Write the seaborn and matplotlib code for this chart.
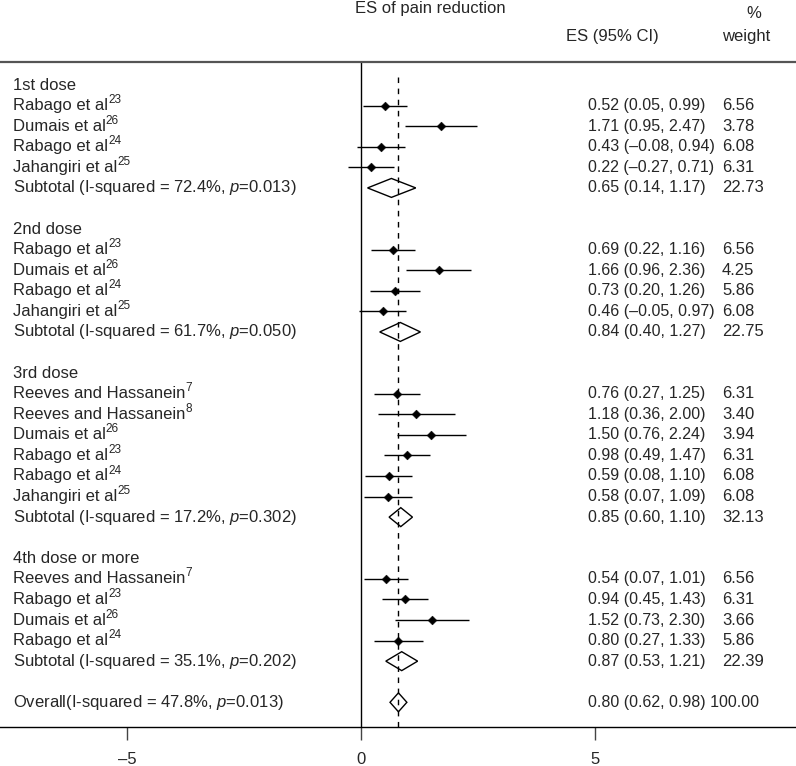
import matplotlib
matplotlib.use("Agg")
import matplotlib.pyplot as plt
import seaborn as sns
import pandas as pd
from matplotlib.patches import Polygon

# data
groups = ["1st dose", "2nd dose", "3rd dose", "4th dose or more"]
group_of = [0, 0, 0, 0, 1, 1, 1, 1, 2, 2, 2, 2, 2, 2, 3, 3, 3, 3]
names = ["Rabago et al", "Dumais et al", "Rabago et al", "Jahangiri et al",
         "Rabago et al", "Dumais et al", "Rabago et al", "Jahangiri et al",
         "Reeves and Hassanein", "Reeves and Hassanein", "Dumais et al",
         "Rabago et al", "Rabago et al", "Jahangiri et al",
         "Reeves and Hassanein", "Rabago et al", "Dumais et al", "Rabago et al"]
refs = ["23", "26", "24", "25", "23", "26", "24", "25",
        "7", "8", "26", "23", "24", "25", "7", "23", "26", "24"]
es = [0.52, 1.71, 0.43, 0.22, 0.69, 1.66, 0.73, 0.46,
      0.76, 1.18, 1.50, 0.98, 0.59, 0.58, 0.54, 0.94, 1.52, 0.80]
lo = [0.05, 0.95, -0.08, -0.27, 0.22, 0.96, 0.20, -0.05,
      0.27, 0.36, 0.76, 0.49, 0.08, 0.07, 0.07, 0.45, 0.73, 0.27]
hi = [0.99, 2.47, 0.94, 0.71, 1.16, 2.36, 1.26, 0.97,
      1.25, 2.00, 2.24, 1.47, 1.10, 1.09, 1.01, 1.43, 2.30, 1.33]
wt = [6.56, 3.78, 6.08, 6.31, 6.56, 4.25, 5.86, 6.08,
      6.31, 3.40, 3.94, 6.31, 6.08, 6.08, 6.56, 6.31, 3.66, 5.86]

sub_i2 = ["72.4", "61.7", "17.2", "35.1"]
sub_p = ["0.013", "0.050", "0.302", "0.202"]
sub_es = [0.65, 0.84, 0.85, 0.87]
sub_lo = [0.14, 0.40, 0.60, 0.53]
sub_hi = [1.17, 1.27, 1.10, 1.21]
sub_wt = [22.73, 22.75, 32.13, 22.39]

overall_i2 = "47.8"
overall_p = "0.013"
overall_es, overall_lo, overall_hi, overall_wt = 0.80, 0.62, 0.98, 100.00


def f2(v):
    return f"{v:.2f}".replace("-", "\u2013")


def ci_text(e, l, h):
    return f"{f2(e)} ({f2(l)}, {f2(h)})"


sns.set_style("white")
plt.rcParams['font.family'] = ['Liberation Sans', 'DejaVu Sans']
plt.rcParams['mathtext.fontset'] = 'custom'
plt.rcParams['mathtext.rm'] = 'Liberation Sans'
plt.rcParams['mathtext.it'] = 'Liberation Sans:italic'

FS = 12        # labels and headers
FS_NUM = 11.5  # ES (95% CI) column

# row layout
rows = []
header_rows, sub_rows = [], []
r = 0
for g in range(len(groups)):
    header_rows.append(r)
    r += 1
    for i, gi in enumerate(group_of):
        if gi == g:
            rows.append(r)
            r += 1
    sub_rows.append(r)
    r += 2
overall_row = r

df = pd.DataFrame({"name": names, "ref": refs, "es": es, "lo": lo,
                   "hi": hi, "wt": wt, "row": rows})

W, H = 796, 766
fig = plt.figure(figsize=(W / 100, H / 100), dpi=100)
ax = fig.add_axes([0, 1 - 727 / H, 1, (727 - 62) / H])

ax.set_xlim(-361 / 46.8, 435 / 46.8)
ax.set_ylim(31.2, -1.12)

# reference lines
ax.axvline(0, color="black", lw=1)
ax.axvline(overall_es, color="black", lw=1, ls=(0, (4, 4)), ymax=0.985)

# study CIs and point estimates
ax.hlines(df["row"], df["lo"], df["hi"], color="black", lw=1)
sns.scatterplot(data=df, x="es", y="row", marker="D", s=20, color="black",
                edgecolor="black", ax=ax, legend=False, zorder=3)

# pooled diamonds
h = 0.46
for e, l, hh, y in zip(sub_es + [overall_es], sub_lo + [overall_lo],
                       sub_hi + [overall_hi], sub_rows + [overall_row]):
    ax.add_patch(Polygon([(l, y), (e, y - h), (hh, y), (e, y + h)],
                         closed=True, fill=False, edgecolor="black", lw=1,
                         zorder=3))

tr = ax.get_yaxis_transform()
x_lab, x_es, x_wt = 13 / W, 588 / W, 722 / W

for g, y in zip(groups, header_rows):
    ax.text(x_lab, y, g, transform=tr, va="center", fontsize=FS)

for _, row in df.iterrows():
    t = ax.text(x_lab, row["row"], row["name"], transform=tr, va="center",
                fontsize=FS)
    # reference number as a small superscript right after the name
    ax.annotate(row["ref"], xy=(1, 0.86), xycoords=t, xytext=(0, 0),
                textcoords="offset points", ha="left", va="center",
                fontsize=8.5)
    ax.text(x_es, row["row"], ci_text(row["es"], row["lo"], row["hi"]),
            transform=tr, va="center", fontsize=FS_NUM)
    ax.text(x_wt, row["row"], f2(row["wt"]), transform=tr, va="center",
            fontsize=FS)

for i, y in enumerate(sub_rows):
    ax.text(x_lab, y, f"Subtotal (I-squared = {sub_i2[i]}%, " + r"$\mathit{p}$"
            + f"={sub_p[i]})", transform=tr, va="center", fontsize=FS)
    ax.text(x_es, y, ci_text(sub_es[i], sub_lo[i], sub_hi[i]), transform=tr,
            va="center", fontsize=FS_NUM)
    ax.text(x_wt, y, f2(sub_wt[i]), transform=tr, va="center", fontsize=FS)

ax.text(x_lab, overall_row, f"Overall(I-squared = {overall_i2}%, "
        + r"$\mathit{p}$" + f"={overall_p})", transform=tr, va="center",
        fontsize=FS)
ax.text(x_es, overall_row,
        ci_text(overall_es, overall_lo, overall_hi) + f" {f2(overall_wt)}",
        transform=tr, va="center", fontsize=FS_NUM)

# header
fig.text(430 / W, 1 - 9 / H, "ES of pain reduction", ha="center", va="center",
         fontsize=FS)
fig.text(746 / W, 1 - 13 / H, "%", ha="left", va="center", fontsize=FS)
fig.text(x_wt, 1 - 37 / H, "weight", ha="left", va="center", fontsize=FS)
fig.text(566 / W, 1 - 37 / H, "ES (95% CI)", ha="left", va="center",
         fontsize=FS)

# axes styling
for side in ["left", "right"]:
    ax.spines[side].set_visible(False)
ax.spines["top"].set_color("#555555")
ax.spines["top"].set_linewidth(1.6)
ax.spines["bottom"].set_color("black")
ax.spines["bottom"].set_linewidth(1)
ax.set_yticks([])
ax.set_xticks([-5, 0, 5])
ax.set_xticklabels(["\u20135", "0", "5"], fontsize=FS)
ax.tick_params(axis="x", direction="out", length=9, width=1, color="#444444",
               pad=9, bottom=True)
ax.set_xlabel("")
ax.set_ylabel("")

fig.savefig("out.png", dpi=100)
